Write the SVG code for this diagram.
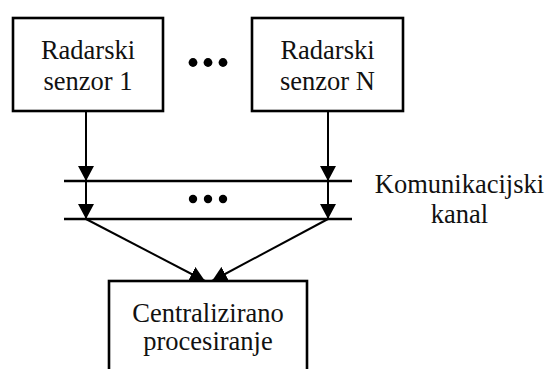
<svg xmlns="http://www.w3.org/2000/svg" width="547" height="369" viewBox="0 0 547 369">
  <style>
    .box { fill: #ffffff; stroke: #000000; stroke-width: 2.6; }
    .lbl { font-family: "Liberation Serif", "Times New Roman", serif; font-size: 26.5px; fill: #111111; text-anchor: middle; }
    .wire { stroke: #000000; stroke-width: 2; fill: none; }
    .bus { stroke: #000000; stroke-width: 2.6; fill: none; }
    .dot { fill: #000000; }
  </style>
  <defs>
    <marker id="arrow" viewBox="0 0 15 16" refX="15" refY="8" markerWidth="15" markerHeight="16" markerUnits="userSpaceOnUse" orient="auto">
      <path d="M0,0 L15,8 L0,16 Z" fill="#000000"/>
    </marker>
  </defs>

  <!-- sensor nodes -->
  <g id="sensor-1">
    <rect class="box" x="13" y="18" width="150" height="93"/>
    <text class="lbl" x="88" y="59">Radarski</text>
    <text class="lbl" x="88" y="90">senzor 1</text>
  </g>
  <g id="sensor-n">
    <rect class="box" x="252" y="18" width="151" height="93"/>
    <text class="lbl" x="327.5" y="59">Radarski</text>
    <text class="lbl" x="327.5" y="90">senzor N</text>
  </g>
  <g id="sensor-ellipsis">
    <circle class="dot" cx="193" cy="62.5" r="4.4"/>
    <circle class="dot" cx="208" cy="62.5" r="4.4"/>
    <circle class="dot" cx="223" cy="62.5" r="4.4"/>
  </g>

  <!-- communication channel -->
  <g id="channel">
    <line class="bus" x1="64" y1="181" x2="352" y2="181"/>
    <line class="bus" x1="64" y1="219" x2="352" y2="219"/>
    <circle class="dot" cx="193" cy="199" r="4.2"/>
    <circle class="dot" cx="208" cy="199" r="4.2"/>
    <circle class="dot" cx="223" cy="199" r="4.2"/>
    <text class="lbl" x="459.5" y="193">Komunikacijski</text>
    <text class="lbl" x="459.5" y="223">kanal</text>
  </g>

  <!-- central processing node -->
  <g id="central">
    <rect class="box" x="109" y="281" width="198" height="100"/>
    <text class="lbl" x="208" y="322">Centralizirano</text>
    <text class="lbl" x="208" y="350">procesiranje</text>
  </g>

  <!-- connectors -->
  <g id="connectors">
    <line class="wire" x1="86" y1="111" x2="86" y2="181" marker-end="url(#arrow)"/>
    <line class="wire" x1="86" y1="181" x2="86" y2="219" marker-end="url(#arrow)"/>
    <line class="wire" x1="328" y1="111" x2="328" y2="181" marker-end="url(#arrow)"/>
    <line class="wire" x1="328" y1="181" x2="328" y2="219" marker-end="url(#arrow)"/>
    <line class="wire" x1="86" y1="219" x2="205" y2="281" marker-end="url(#arrow)"/>
    <line class="wire" x1="328" y1="219" x2="212" y2="281" marker-end="url(#arrow)"/>
  </g>
</svg>
